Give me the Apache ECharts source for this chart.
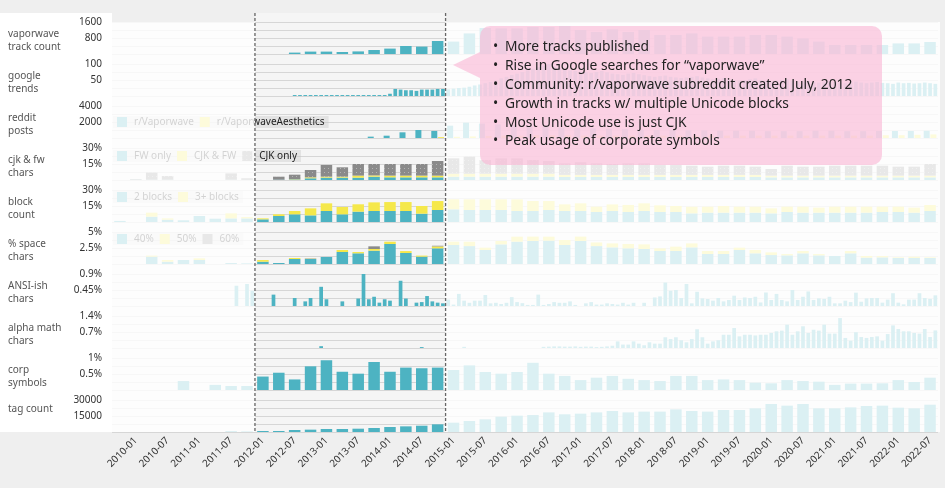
<!DOCTYPE html>
<html><head><meta charset="utf-8">
<script src="https://cdn.jsdelivr.net/npm/echarts@6/dist/echarts.min.js"></script>
<style>html,body{margin:0;padding:0;background:#efefef}#c{width:945px;height:488px}</style>
</head><body><div id="c"></div>
<script>
// ---------- categories ----------
const quarters = ['2009-10',
 '2010-01','2010-04','2010-07','2010-10','2011-01','2011-04','2011-07','2011-10',
 '2012-01','2012-04','2012-07','2012-10','2013-01','2013-04','2013-07','2013-10',
 '2014-01','2014-04','2014-07','2014-10','2015-01','2015-04','2015-07','2015-10',
 '2016-01','2016-04','2016-07','2016-10','2017-01','2017-04','2017-07','2017-10',
 '2018-01','2018-04','2018-07','2018-10','2019-01','2019-04','2019-07','2019-10',
 '2020-01','2020-04','2020-07','2020-10','2021-01','2021-04','2021-07','2021-10',
 '2022-01','2022-04','2022-07'];
const months = ['2009-10','2009-11','2009-12',
 '2010-01','2010-02','2010-03','2010-04','2010-05','2010-06','2010-07','2010-08','2010-09','2010-10','2010-11','2010-12',
 '2011-01','2011-02','2011-03','2011-04','2011-05','2011-06','2011-07','2011-08','2011-09','2011-10','2011-11','2011-12',
 '2012-01','2012-02','2012-03','2012-04','2012-05','2012-06','2012-07','2012-08','2012-09','2012-10','2012-11','2012-12',
 '2013-01','2013-02','2013-03','2013-04','2013-05','2013-06','2013-07','2013-08','2013-09','2013-10','2013-11','2013-12',
 '2014-01','2014-02','2014-03','2014-04','2014-05','2014-06','2014-07','2014-08','2014-09','2014-10','2014-11','2014-12',
 '2015-01','2015-02','2015-03','2015-04','2015-05','2015-06','2015-07','2015-08','2015-09','2015-10','2015-11','2015-12',
 '2016-01','2016-02','2016-03','2016-04','2016-05','2016-06','2016-07','2016-08','2016-09','2016-10','2016-11','2016-12',
 '2017-01','2017-02','2017-03','2017-04','2017-05','2017-06','2017-07','2017-08','2017-09','2017-10','2017-11','2017-12',
 '2018-01','2018-02','2018-03','2018-04','2018-05','2018-06','2018-07','2018-08','2018-09','2018-10','2018-11','2018-12',
 '2019-01','2019-02','2019-03','2019-04','2019-05','2019-06','2019-07','2019-08','2019-09','2019-10','2019-11','2019-12',
 '2020-01','2020-02','2020-03','2020-04','2020-05','2020-06','2020-07','2020-08','2020-09','2020-10','2020-11','2020-12',
 '2021-01','2021-02','2021-03','2021-04','2021-05','2021-06','2021-07','2021-08','2021-09','2021-10','2021-11','2021-12',
 '2022-01','2022-02','2022-03','2022-04','2022-05','2022-06','2022-07','2022-08','2022-09'];
const n = null;

// ---------- quarterly series ----------
const trackCount = [n,n,n,n,n,n,n,n,n,n,n, 70,120,120,100,130,200,270,400,370,650,
 620,1030,1300,1280,1280,1350,1350,1400,1200,1100,1230,1100,1200,950,950,1030,870,870,870,950,950,870,780,620,450,450,450,450,530,530,600];
const redditVaporwave = [n,n,n,n,n,n,n,n,n,n,n,n,n,n,n,n, 170,290,710,1000,880,
 1540,1920,1800,1700,1600,1500,1400,1300,1250,1200,1150,1100,1050,1000,1000,950,950,900,900,900,850,850,850,900,900,850,850,875,875,875,900];
const redditAesthetics = [n,n,n,n,n,n,n,n,n,n,n,n,n,n,n,n,n,n,n,n, 100,
 150,200,250,300,300,350,350,350,300,300,300,300,300,300,300,300,300,300,300,300,300,300,300,300,300,300,300,350,350,400,450];
const fwOnly = [n,0.3,0.3,0.3,n,n,n,0.3,0.2,n,0.3,0.5,1.6,2.2,2.2,2.2,3.1,2.5,2.5,2.5,2.5,
 3.1,3.1,3.1,3.1,3.1,3.1,3.1,2.8,2.8,2.8,2.8,2.8,2.8,2.8,2.8,2.8,2.8,2.8,2.8,2.8,2.5,2.5,2.5,2.5,2.5,2.5,2.5,2.5,2.5,2.5,2.5];
const cjkAndFw = [n,n,n,n,n,n,n,n,n,n,n,0.3,0.9,0.9,0.9,1.9,1.2,1.6,1.6,1.6,1.6,
 2.8,2.8,2.8,2.8,2.8,2.8,2.8,2.0,2.0,2.0,2.0,2.0,2.0,2.0,2.0,2.0,2.0,2.0,2.0,2.0,1.6,1.6,1.6,1.6,1.6,1.6,1.6,1.6,1.6,1.6,1.6];
const cjkOnly = [n,0.6,6.6,3.4,n,n,n,5.9,1.4,n,2.8,4.2,6.9,11,8.8,10.9,10.7,10.9,10.9,10.9,13.7,
 14.4,16.0,12.85,14.4,14.4,12.85,11.9,10.8,11.8,10.8,10.2,10.8,10.8,9.2,9.2,8.6,7.7,8.6,8.6,7.7,6.2,9.3,8.4,8.4,9.3,9.3,9.3,9.3,8.4,8.4,10.9];
const blocks2 = [1,n,5,2.2,1.6,5.6,3.1,3.4,3.4,2.5,5.6,7.2,6.2,10.3,7.2,9.7,10.3,10.3,10.3,7.8,11.25,
 11.9,11.25,11.25,11.25,10.3,10.3,11.25,10.3,10.3,9.4,10.3,9.4,10.3,9.4,9.4,8.1,8.75,8.75,8.75,8.75,8.1,9.4,8.75,8.75,8.75,8.75,8.75,9.4,9.4,8.75,10.3];
const blocks3 = [n,n,3.75,1.2,n,n,n,4.7,1.2,0.9,1.6,3.1,6.6,7.2,6.9,6.9,8.1,8.4,8.4,7.2,8.4,
 9.4,10,10,10,10.9,9.4,8.4,6.25,7.2,5,6.2,6.6,7.2,6.2,5.6,6.2,5.6,6.2,5.6,5.6,4.7,5,5.6,4.7,5.6,5.6,5.6,5,5,4.7,5.6];
const space40 = [n,n,1.15,0.36,0.625,0.625,n,0.15,0.1,0.36,0.16,0.78,0.78,1.1,1.875,1.67,2.08,3.125,1.72,1.15,2.45,
 2.97,2.8,2.19,3.07,3.49,3.6,3.65,2.97,3.6,2.8,2.6,2.45,2.34,2.03,2.03,2.6,1.56,1.56,2.19,1.67,1.4,1.35,1.67,1.35,1.25,1.67,0.99,1.04,0.94,0.94,0.94];
const space50 = [n,n,0.16,0.26,n,0.26,n,n,n,0.26,n,0.16,0.05,n,0.31,0.2,0.26,0.36,0.3,0.16,0.3,
 0.52,0.68,0.36,0.52,0.78,0.68,0.62,0.78,0.68,0.57,0.62,0.68,0.73,0.42,0.68,0.62,0.47,0.47,0.36,0.52,0.42,0.2,0.36,0.2,n,0.36,0.26,0.2,0.1,0.2,0.1];
const space60 = [n,n,n,n,n,n,n,n,n,n,n,n,0.05,n,n,n,0.42,n,n,n,0.1,
 n,n,n,n,n,n,n,n,n,n,n,n,n,n,n,n,n,n,n,n,n,n,n,n,n,n,n,n,n,n,n];
const corpSymbols = [n,n,n,n,0.28,n,0.16,0.125,0.125,0.42,0.54,0.33,0.74,0.93,0.57,0.51,0.875,0.57,0.70,0.68,0.70,
 0.625,0.77,0.5625,0.51,0.5625,0.85,0.51,0.44,0.31,0.385,0.44,0.35,0.31,0.28,0.44,0.44,0.31,0.33,0.31,0.23,0.21,0.31,0.28,0.26,0.16,0.2,0.2,0.21,0.31,0.25,0.385];
const tagCount = [n,n,n,n,n,n,n,900,600,940,940,1875,2200,2800,2800,3100,3750,4700,5300,5900,7200,
 8750,10300,11900,14400,15300,15900,18400,16600,17200,18400,19700,18400,19100,19100,21250,19700,19100,20600,20600,22200,26250,24700,26250,22200,22200,23100,24400,24700,22800,22200,25600];

// ---------- monthly series (rows: 2009 Q4, then one row per year) ----------
const googleTrends = [n,n,n,
 n,n,n,n,n,n,n,n,n,n,n,n,
 n,n,n,n,n,n,n,n,n,n,n,n,
 n,n,n,n,n,n,n,3,3,3,3,3,
 3,3,3,3,3,3,3,3,3,3,3,3,
 3,7,22,20,18,18,16,20,20,20,22,22,
 21,23,25,26,29,33,36,40,44,48,55,60,
 66,70,75,80,85,90,95,100,92,88,84,80,
 78,76,74,72,75,78,74,70,68,66,70,72,
 68,65,62,60,62,64,60,58,56,58,60,62,
 58,55,52,54,56,52,50,48,50,52,55,50,
 48,46,48,50,52,48,46,45,47,44,42,45,
 48,44,42,40,43,45,42,40,42,44,41,40,
 38,42,40,41,39,40,42,40,38];
const ansiChars = [n,n,n,
 n,n,n,n,n,n,n,n,n,n,n,n,
 n,n,n,n,n,n,n,n,0.57,n,0.62,0.43,
 n,n,n,0.32,n,n,n,0.225,n,0.13,0.225,n,
 0.54,0.19,n,n,0.13,n,n,0.21,0.9,0.19,0.26,0.094,
 0.19,0.15,n,0.71,0.21,n,0.094,0.11,0.28,0.13,0.094,0.075,
 0.18,0.04,0.34,0.15,0.09,0.15,0.15,0.31,0.075,0.09,0.056,0.09,
 0.25,0.11,0.08,0.03,0.03,0.32,0.03,0.056,0.11,0.09,0.09,0.13,
 0.03,n,0.075,0.11,0.04,0.04,0.075,0.056,0.04,0.09,0.04,0.09,
 n,0.09,n,0.24,0.27,0.66,0.43,0.45,0.225,0.62,0.075,0.40,
 0.215,0.197,0.15,0.225,0.13,0.17,0.29,0.17,0.24,0.225,0.26,0.10,
 0.38,0.17,0.34,0.17,0.13,0.45,0.17,0.26,0.41,0.17,0.215,0.2,
 0.26,0.075,0.075,0.15,0.11,0.375,0.12,0.215,0.225,0.225,0.094,0.18,
 0.36,0.094,0.047,0.18,0.18,0.36,0.225,0.2,0.3];
const alphaMath = [n,n,n,
 n,n,n,n,n,n,n,n,n,n,n,n,
 n,n,n,n,n,n,n,n,n,n,n,n,
 n,n,n,n,n,n,n,n,n,n,n,n,
 0.08,n,n,n,n,n,n,n,n,n,n,n,
 n,n,n,n,n,n,n,0.04,n,n,n,n,
 n,n,n,0.05,n,n,n,n,n,n,n,n,
 n,n,n,n,n,n,0.05,0.06,0.07,0.07,0.06,0.06,
 0.07,0.05,0.06,0.06,0.04,0.05,0.07,0.1,0.29,0.15,0.15,0.29,
 0.19,0.12,0.25,0.19,0.19,0.47,0.39,0.47,0.34,0.25,0.39,0.82,
 0.47,0.19,0.29,0.34,0.58,0.58,0.875,0.51,0.58,0.58,0.55,0.58,
 0.58,0.66,0.73,0.76,1.02,0.58,0.73,0.95,0.66,0.8,0.76,1.02,
 0.63,0.63,1.31,0.44,0.32,0.69,0.48,0.44,0.48,0.51,0.32,0.61,
 0.99,0.83,0.73,0.73,0.66,0.63,0.83,0.48,0.77];

// ---------- axis texts ----------
const rowTitles = ['vaporwave\ntrack count','google\ntrends','reddit\nposts','cjk & fw\nchars','block\ncount','% space\nchars','ANSI-ish\nchars','alpha math\nchars','corp\nsymbols','tag count'];
const rowMax = [1600,100,4000,30,30,5,0.9,1.4,1,30000];
const rowTopLabel = ['1600','100','4000','30%','30%','5%','0.9%','1.4%','1%','30000'];
const rowMidLabel = ['800','50','2000','15%','15%','2.5%','0.45%','0.7%','0.5%','15000'];
const monthlyRows = [1,6,7];
const highlightFrom = '2012-01', highlightTo = '2014-10';
const calloutLines = ['More tracks published','Rise in Google searches for \u201cvaporwave\u201d','Community: r/vaporwave subreddit created July, 2012','Growth in tracks w/ multiple Unicode blocks','Most Unicode use is just CJK','Peak usage of corporate symbols'];

// ---------- build ----------
const FONT = "'Noto Sans', 'Open Sans', sans-serif";
const TEAL = '#4db3c2', YEL = '#f5e84b', GRAY = '#8a8a8a';
const ROW_TOP = 22, ROW_H = 32, ROW_STEP = 42, LEFT = 112, RIGHT = 7;

const grids = [], xAxes = [], yAxes = [];
for (let k = 0; k < 10; k++) {
  grids.push({left: LEFT, right: RIGHT, top: ROW_TOP + ROW_STEP * k, height: ROW_H, containLabel: false});
  const monthly = monthlyRows.includes(k);
  xAxes.push({
    type: 'category', gridIndex: k, data: monthly ? months : quarters, boundaryGap: true,
    show: k === 9, axisLine: {show: false}, axisTick: {show: false}, splitLine: {show: false},
    axisLabel: {show: k === 9, rotate: 45, fontSize: 10, color: '#333', fontFamily: FONT, margin: 7,
      interval: (idx) => idx % 2 === 1}
  });
  const mx = rowMax[k];
  yAxes.push({
    type: 'value', gridIndex: k, min: 0, max: mx, interval: mx / 4,
    axisLine: {show: false}, axisTick: {show: false},
    splitLine: {show: true, lineStyle: {color: '#d6d6d6', width: 1}},
    axisLabel: {fontSize: 10, color: '#333', fontFamily: FONT, margin: 10, padding: [3, 0, 0, 0],
      formatter: (v) => Math.abs(v - mx) < mx * 1e-6 ? rowTopLabel[k] : (Math.abs(v - mx / 2) < mx * 1e-6 ? rowMidLabel[k] : '')}
  });
}
const QW = 11.5, MW = 3.7;
function bar(name, k, data, color, extra) {
  return Object.assign({name, type: 'bar', xAxisIndex: k, yAxisIndex: k, data, barWidth: QW,
    itemStyle: {color}, emphasis: {disabled: true}, silent: true}, extra || {});
}
const series = [
  bar('track count', 0, trackCount, TEAL),
  bar('google trends', 1, googleTrends, TEAL, {barWidth: MW}),
  bar('r/Vaporwave', 2, redditVaporwave, TEAL, {barWidth: 6, barGap: '12%'}),
  bar('r/VaporwaveAesthetics', 2, redditAesthetics, YEL, {barWidth: 6, barGap: '12%'}),
  bar('FW only', 3, fwOnly, TEAL, {stack: 'cjk'}),
  bar('CJK & FW', 3, cjkAndFw, YEL, {stack: 'cjk'}),
  bar('CJK only', 3, cjkOnly, GRAY, {stack: 'cjk', itemStyle: {color: GRAY, decal: {symbol: 'rect', symbolSize: 1, dashArrayX: [1, 3], dashArrayY: [1, 3], color: 'rgba(255,255,255,0.35)'}}}),
  bar('2 blocks', 4, blocks2, TEAL, {stack: 'blk'}),
  bar('3+ blocks', 4, blocks3, YEL, {stack: 'blk'}),
  bar('40%', 5, space40, TEAL, {stack: 'sp'}),
  bar('50%', 5, space50, YEL, {stack: 'sp'}),
  bar('60%', 5, space60, GRAY, {stack: 'sp'}),
  bar('ansi', 6, ansiChars, TEAL, {barWidth: MW}),
  bar('alpha', 7, alphaMath, TEAL, {barWidth: MW}),
  bar('corp', 8, corpSymbols, TEAL),
  bar('tags', 9, tagCount, TEAL)
];
const legendBase = {orient: 'horizontal', left: 113, itemWidth: 10, itemHeight: 10, itemGap: 6, padding: [1, 4, 1, 4],
  icon: 'rect', selectedMode: false, backgroundColor: 'rgba(200,200,200,0.4)',
  textStyle: {fontSize: 10, color: '#222', fontFamily: FONT, padding: [0, 0, 0, 2]}};
const legends = [
  Object.assign({}, legendBase, {top: 116, data: ['r/Vaporwave', 'r/VaporwaveAesthetics']}),
  Object.assign({}, legendBase, {top: 150, data: ['FW only', 'CJK & FW', 'CJK only']}),
  Object.assign({}, legendBase, {top: 191, data: ['2 blocks', '3+ blocks']}),
  Object.assign({}, legendBase, {top: 233, data: ['40%', '50%', '60%']})
];

const chart = echarts.init(document.getElementById('c'));
chart.setOption({
  animation: false,
  backgroundColor: '#efefef',
  textStyle: {fontFamily: FONT},
  grid: grids, xAxis: xAxes, yAxis: yAxes, legend: legends, series
});

// band edges of the highlighted period, from the library's own scale
const c0 = chart.convertToPixel({xAxisIndex: 0}, quarters[0]);
const c1 = chart.convertToPixel({xAxisIndex: 0}, quarters[1]);
const band = c1 - c0;
const hx0 = chart.convertToPixel({xAxisIndex: 0}, highlightFrom) - band / 2;
const hx1 = chart.convertToPixel({xAxisIndex: 0}, highlightTo) + band / 2;
const plotL = c0 - band / 2, plotR = chart.convertToPixel({xAxisIndex: 0}, quarters[quarters.length - 1]) + band / 2 + 2;
const PT = 13, PB = 432;

const g = [];
g.push({type: 'rect', z: -10, shape: {x: 0, y: PT, width: plotL, height: PB - PT}, style: {fill: '#ffffff'}});
g.push({type: 'rect', z: -10, shape: {x: plotL, y: ROW_TOP, width: plotR - plotL, height: PB - ROW_TOP}, style: {fill: '#f5f5f5'}});
g.push({type: 'rect', z: -9, shape: {x: hx0, y: PT, width: hx1 - hx0, height: PB - PT}, style: {fill: '#f5f5f5'}});
// fade everything outside the highlighted period
g.push({type: 'rect', z: 10, shape: {x: plotL, y: ROW_TOP, width: hx0 - plotL, height: PB - ROW_TOP}, style: {fill: 'rgba(255,255,255,0.8)'}});
g.push({type: 'rect', z: 10, shape: {x: hx1, y: ROW_TOP, width: plotR - hx1, height: PB - ROW_TOP}, style: {fill: 'rgba(255,255,255,0.8)'}});
[hx0, hx1].forEach(x => g.push({type: 'line', z: 11, shape: {x1: x, y1: PT, x2: x, y2: PB},
  style: {stroke: '#666', lineWidth: 1.3, lineDash: [3, 2]}}));
rowTitles.forEach((t, k) => {
  const y = k === 9 ? 409 : 40.5 + ROW_STEP * k;
  g.push({type: 'text', z: 12, x: 8, y, style: {text: t, fill: '#555', fontSize: 10, fontFamily: FONT,
    lineHeight: 13, verticalAlign: 'middle', align: 'left'}});
});
// callout
g.push({type: 'rect', z: 12, shape: {x: 480, y: 26, width: 402, height: 139, r: 10}, style: {fill: 'rgba(250,180,212,0.6)'}});
g.push({type: 'polygon', z: 12, shape: {points: [[480, 52], [453, 65], [480, 78]]}, style: {fill: 'rgba(250,180,212,0.6)'}});
calloutLines.forEach((t, i) => {
  const y = 47.5 + i * 18.8;
  g.push({type: 'text', z: 13, x: 493, y, style: {text: '\u2022', fill: '#222', fontSize: 13.8, fontFamily: FONT, verticalAlign: 'middle'}});
  g.push({type: 'text', z: 13, x: 505, y, style: {text: t, fill: '#222', fontSize: 13.8, fontFamily: FONT, verticalAlign: 'middle'}});
});
chart.setOption({graphic: {elements: g}});
</script></body></html>
